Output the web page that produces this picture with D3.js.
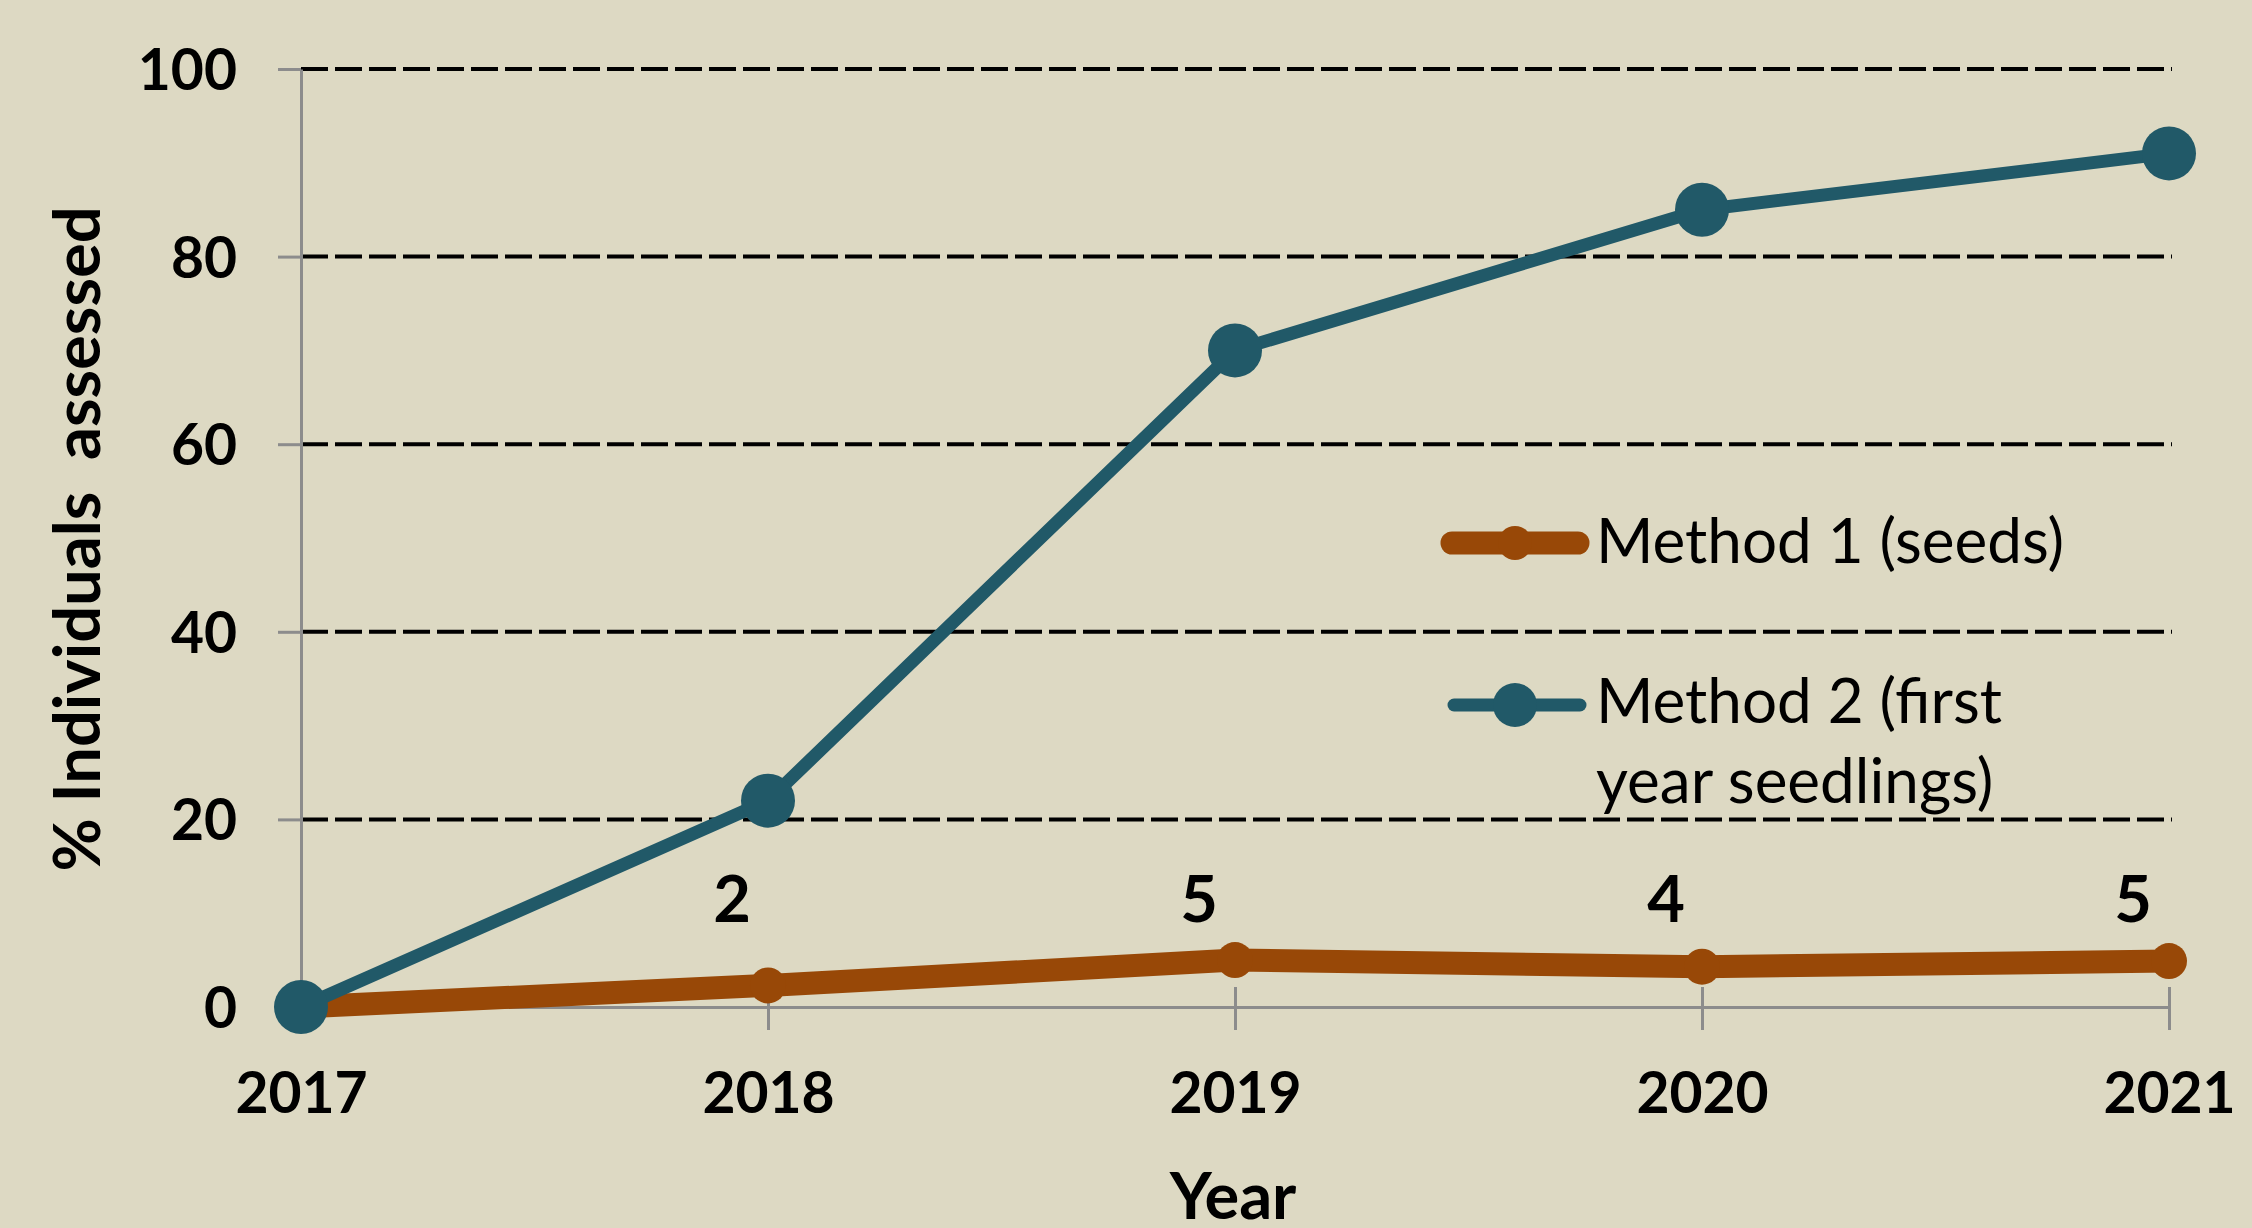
<!DOCTYPE html>
<html>
<head>
<meta charset="utf-8">
<script src="https://cdn.jsdelivr.net/npm/d3@7"></script>
<style>
  body { margin: 0; background: #DDD9C3; }
  text { font-family: Lato, "Open Sans", sans-serif; fill: #000; }
</style>
</head>
<body>
<div id="chart-area"></div>
<script>

// SVG Size
var width = 2252,
	height = 1228;

// data
var years = [2017, 2018, 2019, 2020, 2021];
var method1 = [0, 2.3, 5.0, 4.3, 4.9];
var method2 = [0, 22, 70, 85, 91];
var yTicks = [0, 20, 40, 60, 80, 100];
var seriesNames = ["Method 1 (seeds)", "Method 2 (first|year seedlings)"];

var brown = "#984807",
	teal = "#215968",
	axisGray = "#8c8c8c";

var svg = d3.select("#chart-area")
	.append("svg")
	.attr("width", width)
	.attr("height", height);

svg.append("rect")
	.attr("width", width)
	.attr("height", height)
	.attr("fill", "#DDD9C3");

var x = d3.scaleLinear()
	.domain([2017, 2021])
	.range([301, 2169]);

var y = d3.scaleLinear()
	.domain([0, 100])
	.range([1007, 69]);

// dashed gridlines (not at 0, the x axis sits there)
svg.append("g").selectAll("line")
	.data(yTicks.filter(function (d) {return d > 0}))
	.enter().append("line")
	.attr("x1", x(2017))
	.attr("x2", 2172)
	.attr("y1", function (d) {return y(d)})
	.attr("y2", function (d) {return y(d)})
	.attr("stroke", "#000")
	.attr("stroke-width", 4)
	.attr("stroke-dasharray", "27,7");

// y axis
var yAxis = d3.axisLeft(y).tickValues(yTicks).tickSize(23).tickSizeOuter(0).tickPadding(40);
var gy = svg.append("g")
	.attr("transform", "translate(" + x(2017) + ",0)")
	.call(yAxis);
gy.select(".domain").attr("stroke", axisGray).attr("stroke-width", 3);
gy.selectAll(".tick line").attr("stroke", axisGray).attr("stroke-width", 3);
gy.selectAll(".tick text")
	.attr("font-size", 57)
	.attr("font-weight", "bold")
	.attr("font-family", "Lato")
	.attr("dy", "0.36em")
	.attr("x", -64);

// x axis
var xAxis = d3.axisBottom(x).tickValues(years).tickFormat(d3.format("d")).tickSize(23).tickSizeOuter(0).tickPadding(64);
var gx = svg.append("g")
	.attr("transform", "translate(0," + y(0) + ")")
	.call(xAxis);
gx.select(".domain").attr("stroke", axisGray).attr("stroke-width", 3);
gx.selectAll(".tick line").attr("stroke", axisGray).attr("stroke-width", 3).attr("y1", -20);
gx.selectAll(".tick text")
	.attr("font-size", 57)
	.attr("font-weight", "bold")
	.attr("font-family", "Lato")
	.attr("dy", 0)
	.attr("y", 106);

// axis titles
svg.append("text")
	.attr("x", 1233)
	.attr("y", 1219)
	.attr("text-anchor", "middle")
	.attr("font-size", 65)
	.attr("font-weight", "bold")
	.text("Year");

svg.append("text")
	.attr("transform", "translate(100,539) rotate(-90)")
	.attr("text-anchor", "middle")
	.attr("font-size", 65)
	.attr("font-weight", "bold")
	.style("white-space", "pre")
	.text("% Individuals  assessed");

// lines
var line = d3.line()
	.x(function (d) {return x(d.year)})
	.y(function (d) {return y(d.value)});

var pts1 = years.map(function (yr, i) {return {year: yr, value: method1[i]}});
var pts2 = years.map(function (yr, i) {return {year: yr, value: method2[i]}});

svg.append("path")
	.datum(pts1)
	.attr("d", line)
	.attr("fill", "none")
	.attr("stroke", brown)
	.attr("stroke-width", 23)
	.attr("stroke-linejoin", "round");

svg.append("g").selectAll("circle")
	.data(pts1).enter()
	.append("circle")
	.attr("cx", function (d) {return x(d.year)})
	.attr("cy", function (d) {return y(d.value)})
	.attr("r", 18)
	.attr("fill", brown);

// data labels of method 1 (skip the 0 at 2017)
svg.append("g").selectAll("text")
	.data(pts1.slice(1)).enter()
	.append("text")
	.attr("x", function (d) {return x(d.year) - 36})
	.attr("y", y(11.5) + 23)
	.attr("text-anchor", "middle")
	.attr("font-size", 65)
	.attr("font-weight", "bold")
	.text(function (d) {return d3.format(".0f")(d.value)});

svg.append("path")
	.datum(pts2)
	.attr("d", line)
	.attr("fill", "none")
	.attr("stroke", teal)
	.attr("stroke-width", 13)
	.attr("stroke-linejoin", "round");

svg.append("g").selectAll("circle")
	.data(pts2).enter()
	.append("circle")
	.attr("cx", function (d) {return x(d.year)})
	.attr("cy", function (d) {return y(d.value)})
	.attr("r", 27)
	.attr("fill", teal);

// legend
var legend = svg.append("g");

legend.append("line")
	.attr("x1", 1452).attr("x2", 1578)
	.attr("y1", 543).attr("y2", 543)
	.attr("stroke", brown).attr("stroke-width", 23).attr("stroke-linecap", "round");
legend.append("circle")
	.attr("cx", 1515).attr("cy", 543).attr("r", 17).attr("fill", brown);

legend.append("line")
	.attr("x1", 1454).attr("x2", 1580)
	.attr("y1", 705).attr("y2", 705)
	.attr("stroke", teal).attr("stroke-width", 13).attr("stroke-linecap", "round");
legend.append("circle")
	.attr("cx", 1515).attr("cy", 705).attr("r", 22).attr("fill", teal);

legend.append("text")
	.attr("x", 1596).attr("y", 563)
	.attr("font-size", 62)
	.text(seriesNames[0]);

var t2 = legend.append("text")
	.attr("x", 1596).attr("y", 723)
	.attr("font-size", 62);
seriesNames[1].split("|").forEach(function (s, i) {
	t2.append("tspan")
		.attr("x", 1596)
		.attr("dy", i === 0 ? 0 : 80)
		.text(s);
});

</script>
</body>
</html>
